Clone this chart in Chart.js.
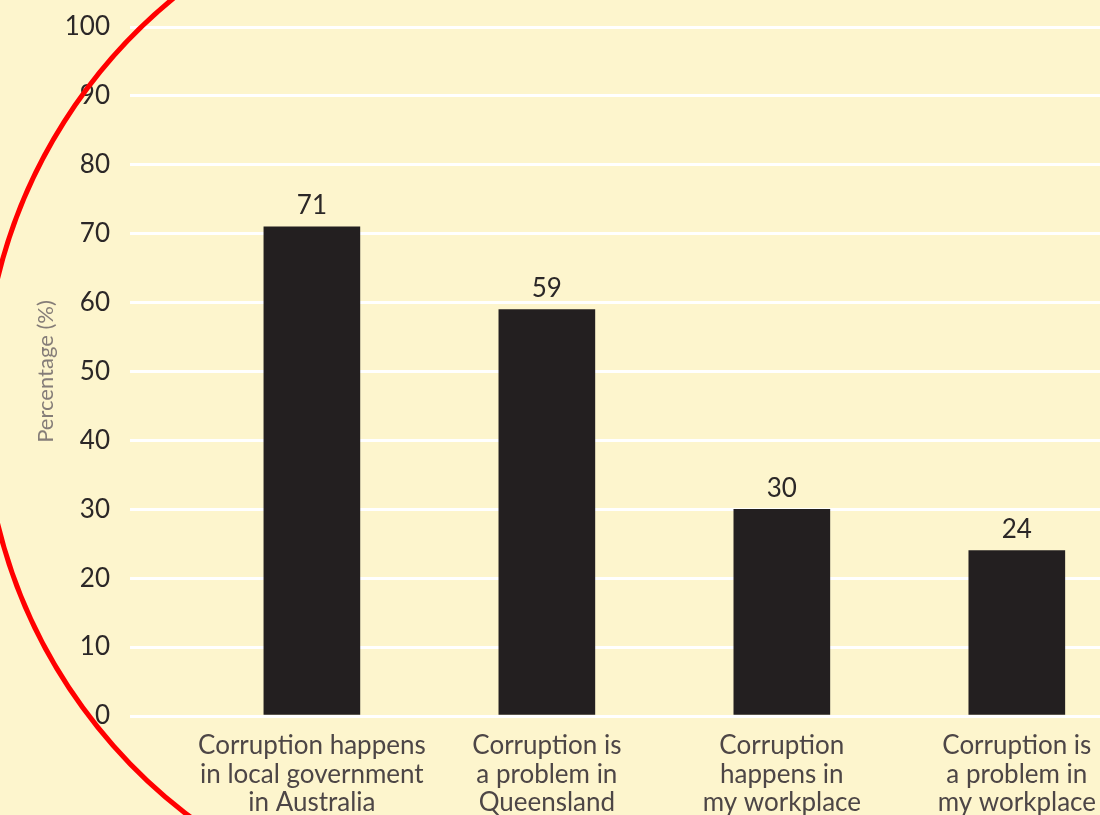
<!DOCTYPE html>
<html>
<head>
<meta charset="utf-8">
<script src="https://cdn.jsdelivr.net/npm/chart.js@4.4.0/dist/chart.umd.min.js"></script>
<style>
    html, body { margin: 0; padding: 0; background: #fdf5cd; overflow: hidden; }
    #wrap { width: 1100px; height: 860px; }
</style>
</head>
<body>
<div id="wrap"><canvas id="chart" width="1100" height="860"></canvas></div>
<script>
// category labels (already split into lines as in the original)
const categories = [
    ["Corruption happens", "in local government", "in Australia"],
    ["Corruption is", "a problem in", "Queensland"],
    ["Corruption", "happens in", "my workplace"],
    ["Corruption is", "a problem in", "my workplace"]
];
const percentages = [71, 59, 30, 24];
const yTicks = [0, 10, 20, 30, 40, 50, 60, 70, 80, 90, 100];

const fontFamily = "Lato, 'Open Sans', sans-serif";

// value labels above each bar
const valueLabels = {
    id: 'valueLabels',
    afterDatasetsDraw(chart) {
        const ctx = chart.ctx;
        const meta = chart.getDatasetMeta(0);
        ctx.save();
        ctx.font = `26px ${fontFamily}`;
        ctx.fillStyle = '#2b2727';
        ctx.textAlign = 'center';
        ctx.textBaseline = 'bottom';
        meta.data.forEach((bar, i) => {
            ctx.fillText(String(percentages[i]), bar.x, bar.y - 8);
        });
        ctx.restore();
    }
};

// red marker stroke on the left (only the left part of a big ring shows)
const redRing = {
    id: 'redRing',
    afterDraw(chart) {
        const ctx = chart.ctx;
        const cx = 504, cy = 401, r = 521;
        ctx.save();
        ctx.strokeStyle = '#ff0000';
        ctx.lineWidth = 5;
        ctx.beginPath();
        ctx.arc(cx, cy, r, Math.PI * 0.68, Math.PI * 1.30);
        ctx.stroke();
        ctx.restore();
    }
};

new Chart(document.getElementById('chart'), {
    type: 'bar',
    data: {
        datasets: [{
            data: percentages.map((v, i) => ({ x: i, y: v })),
            backgroundColor: '#231f20',
            barThickness: 96
        }]
    },
    options: {
        responsive: false,
        animation: false,
        layout: { padding: { top: 27, left: 0, right: 0, bottom: 0 } },
        plugins: {
            legend: { display: false },
            tooltip: { enabled: false }
        },
        scales: {
            x: {
                type: 'linear',
                offset: false,
                min: -0.774,
                max: 3.354,
                grid: { display: false },
                border: { display: false },
                afterBuildTicks: (scale) => {
                    scale.ticks = categories.map((c, i) => ({ value: i }));
                },
                afterFit: (scale) => {
                    scale.height = 144;
                    scale.paddingLeft = 0;
                    scale.paddingRight = 0;
                },
                ticks: {
                    autoSkip: false,
                    maxRotation: 0,
                    minRotation: 0,
                    padding: 8,
                    color: '#4d4646',
                    font: { family: fontFamily, size: 26, lineHeight: 1.08 },
                    callback: (value) => categories[value]
                }
            },
            y: {
                min: 0,
                max: 100,
                afterBuildTicks: (scale) => {
                    scale.ticks = yTicks.map(v => ({ value: v }));
                },
                afterFit: (scale) => {
                    scale.width = 130;
                    scale.paddingTop = 0;
                    scale.paddingBottom = 0;
                },
                grid: { color: '#ffffff', lineWidth: 3, drawTicks: false },
                border: { display: false },
                ticks: {
                    padding: 20,
                    color: '#2b2727',
                    font: { family: fontFamily, size: 26 }
                },
                title: {
                    display: true,
                    text: 'Percentage (%)',
                    color: '#857d78',
                    font: { family: fontFamily, size: 22 },
                    padding: { top: 33, bottom: 0 }
                }
            }
        }
    },
    plugins: [valueLabels, redRing]
});
</script>
</body>
</html>
